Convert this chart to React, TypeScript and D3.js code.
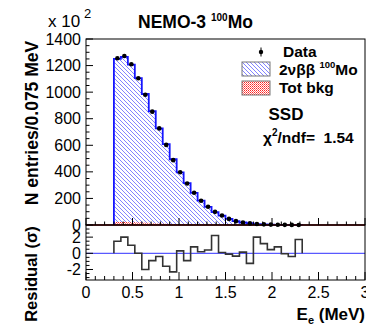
import * as d3 from 'd3';

// binning of the energy histogram (MeV)
const binStart = 0.3;
const binWidth = 0.075;

// counts per bin, in units of 10^2 entries
const dataCounts = [1255, 1272, 1210, 1105, 980, 853, 727, 603, 488, 397, 312, 243, 183, 137, 99, 71, 46, 29, 19, 12, 8, 5, 3, 2, 1, 0.6, 0.5];
const mcTotal = [1250, 1265, 1207, 1105, 986, 856, 728, 608, 495, 396, 315, 242, 183, 137, 97, 71, 46, 29, 19, 13, 6, 4, 2.5, 1.6, 1, 0.6, 0.3];
const bkgCounts = [22, 22, 20, 18, 16, 14, 12, 10, 8, 7, 6, 5, 4, 3, 3, 2, 2, 2, 1, 1, 1, 1, 1, 0.5, 0.5, 0.5, 0.5];
// (data - MC) / sigma
const residuals = [1.5, 2.0, 1.0, 0, -2.0, -0.9, -0.4, -1.6, -2.3, 0.3, -0.9, 0.8, 0.2, 0.4, 2.2, 0.1, -0.1, -0.35, 0.15, -1.25, 2.0, 1.2, 0.45, 0.8, -0.05, -0.4, 1.7];

const xTicks = [0, 0.5, 1, 1.5, 2, 2.5, 3];
const yTicks = [0, 200, 400, 600, 800, 1000, 1200, 1400];
const resTicks = [-2, 0, 2];

const W = 366, H = 326;
const left = 86, right = 365, top = 39, mainBottom = 225, resBottom = 280;
const font = "'Liberation Sans', Arial, Helvetica, sans-serif";

type P = [number, number];

export default function App() {
  const x = d3.scaleLinear().domain([0, 3]).range([left, right]);
  const y = d3.scaleLinear().domain([0, 1400]).range([mainBottom, top]);
  const yr = d3.scaleLinear().domain([-3.3, 3.5]).range([resBottom, mainBottom]);

  const n = mcTotal.length;
  const edges = mcTotal.map((_, i) => binStart + i * binWidth);
  const lastEdge = binStart + n * binWidth;
  const steps = (vals: number[]): P[] => [...vals.map((v, i) => [edges[i], v] as P), [lastEdge, vals[n - 1]]];

  const area = d3.area<P>().curve(d3.curveStepAfter).x(d => x(d[0])).y0(y(0)).y1(d => y(d[1]));
  const line = d3.line<P>().curve(d3.curveStepAfter).x(d => x(d[0])).y(d => y(d[1]));
  const resLine = d3.line<P>().curve(d3.curveStepAfter).x(d => x(d[0])).y(d => yr(d[1]));

  const mcPts = steps(mcTotal);
  const bkgPts = steps(bkgCounts);
  const mcOutline: P[] = [[binStart, 0], ...mcPts, [lastEdge, 0]];
  const resPts: P[] = [[binStart, 0], ...steps(residuals), [lastEdge, 0]];

  const xMinor = d3.range(0, 3.0001, 0.1);
  const yMinor = d3.range(0, 1401, 50);
  const rMinor = d3.range(-3, 3.01, 0.5);

  return (
    <svg width={W} height={H} style={{ position: 'absolute', left: 0, top: 0, background: '#fff' }} fontFamily={font}>
      <defs>
        <pattern id="hatch" patternUnits="userSpaceOnUse" width="4" height="4">
          <path d="M0,0 L4,4 M-1,3 L1,5 M3,-1 L5,1" stroke="#5a5aff" strokeWidth="0.75" />
        </pattern>
        <pattern id="dots" patternUnits="userSpaceOnUse" width="2" height="2">
          <rect width="2" height="2" fill="#fff" />
          <rect width="1" height="1" fill="#ff2020" />
          <rect x="1" y="1" width="1" height="1" fill="#ff7070" />
        </pattern>
      </defs>

      {/* main histogram */}
      <path d={area(mcPts) ?? ''} fill="url(#hatch)" />
      <path d={area(bkgPts) ?? ''} fill="url(#dots)" />
      <path d={line(mcOutline) ?? ''} fill="none" stroke="#1515ff" strokeWidth={1.8} />
      <line x1={left} x2={right} y1={y(0)} y2={y(0)} stroke="#cc1010" strokeWidth={1.5} />
      {dataCounts.map((v, i) => (
        <circle key={i} cx={x(edges[i] + binWidth / 2)} cy={y(v)} r={2.3} fill="#000" />
      ))}

      {/* residual panel */}
      <line x1={left} x2={right} y1={yr(0)} y2={yr(0)} stroke="#3030ff" strokeWidth={1} />
      <path d={resLine(resPts) ?? ''} fill="none" stroke="#333" strokeWidth={1.6} />

      {/* frames */}
      <rect x={left} y={top} width={right - left} height={mainBottom - top} fill="none" stroke="#000" strokeWidth={1} />
      <rect x={left} y={mainBottom} width={right - left} height={resBottom - mainBottom} fill="none" stroke="#000" strokeWidth={1} />

      {/* x ticks */}
      {xMinor.map((t, i) => {
        const major = i % 5 === 0;
        return (
          <g key={i} stroke="#000" strokeWidth={1}>
            <line x1={x(t)} x2={x(t)} y1={mainBottom} y2={mainBottom - (major ? 7 : 3.5)} />
            <line x1={x(t)} x2={x(t)} y1={resBottom} y2={resBottom - (major ? 8 : 4)} />
          </g>
        );
      })}
      {xTicks.map(t => (
        <text key={t} x={x(t)} y={298} textAnchor="middle" fontSize={16}>{t}</text>
      ))}

      {/* y ticks main */}
      {yMinor.map((t, i) => (
        <line key={i} x1={left} x2={left + (i % 4 === 0 ? 7 : 3.5)} y1={y(t)} y2={y(t)} stroke="#000" />
      ))}
      {yTicks.map(t => (
        <text key={t} x={81} y={y(t) + 5.5} textAnchor="end" fontSize={16}>{t}</text>
      ))}

      {/* y ticks residual */}
      {rMinor.map((t, i) => (
        <line key={i} x1={left} x2={left + (t % 2 === 0 ? 7 : 3.5)} y1={yr(t)} y2={yr(t)} stroke="#000" />
      ))}
      {resTicks.map(t => (
        <text key={t} x={81} y={yr(t) + 5.5} textAnchor="end" fontSize={16}>{t}</text>
      ))}

      {/* titles */}
      <text x={48} y={27} fontSize={17}>x 10</text>
      <text x={84} y={18} fontSize={13}>2</text>
      <text x={138} y={28} fontSize={17.5} fontWeight="bold">
        NEMO-3 <tspan fontSize={10} dy={-7}>100</tspan><tspan dy={7}>Mo</tspan>
      </text>
      <text transform="translate(38,123) rotate(-90)" textAnchor="middle" fontSize={17.5} fontWeight="bold">N entries/0.075 MeV</text>
      <text transform="translate(37,274) rotate(-90)" textAnchor="middle" fontSize={16.5} fontWeight="bold">Residual (σ)</text>
      <text x={365} y={320} textAnchor="end" fontSize={17} fontWeight="bold">
        E<tspan fontSize={11} dy={4}>e</tspan><tspan dy={-4}> (MeV)</tspan>
      </text>

      {/* legend */}
      <line x1={261} x2={261} y1={47.5} y2={56.5} stroke="#000" strokeWidth={1} />
      <circle cx={261} cy={52} r={2.2} fill="#000" />
      <text x={283} y={57} fontSize={15.5} fontWeight="bold">Data</text>
      <rect x={242} y={62} width={28} height={14} fill="url(#hatch)" stroke="#777" strokeWidth={1} />
      <text x={279} y={75} fontSize={15.5} fontWeight="bold">
        2νββ <tspan fontSize={9.5} dy={-7}>100</tspan><tspan dy={7}>Mo</tspan>
      </text>
      <rect x={242} y={81} width={28} height={14} fill="url(#dots)" stroke="#777" strokeWidth={1} />
      <text x={279} y={93} fontSize={15.5} fontWeight="bold">Tot bkg</text>
      <text x={286} y={120} textAnchor="middle" fontSize={17} fontWeight="bold">SSD</text>
      <text x={263} y={143} fontSize={15.5} fontWeight="bold">
        χ<tspan fontSize={10} dy={-7}>2</tspan><tspan dy={7}>{'/ndf=\u00a0\u00a01.54'}</tspan>
      </text>
    </svg>
  );
}
